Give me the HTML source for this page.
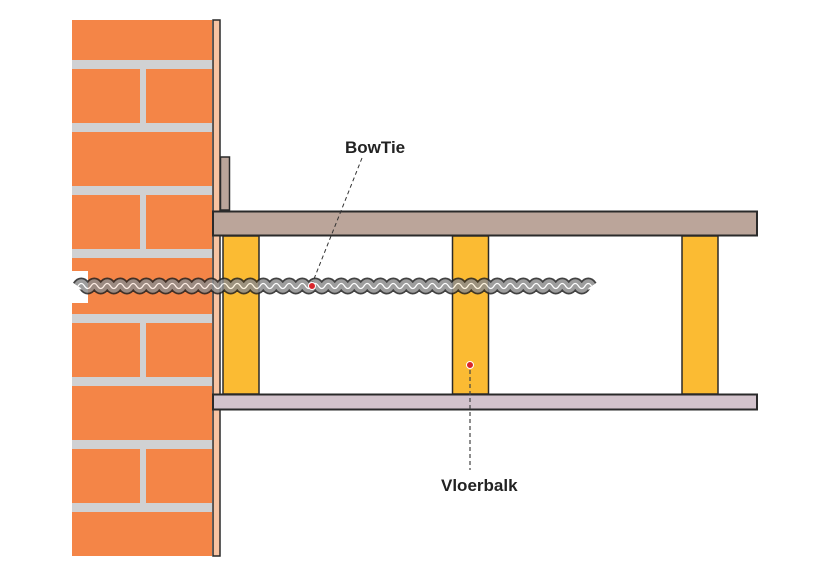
<!DOCTYPE html>
<html><head><style>body{margin:0;background:#fff}svg{display:block}</style></head><body>
<svg width="832" height="576" xmlns="http://www.w3.org/2000/svg">
<rect x="0" y="0" width="832" height="576" fill="#fff"/>
<rect x="72" y="20" width="140" height="536" fill="#f48547"/>
<g fill="#d0d1d3">
<rect x="72" y="60" width="140" height="9"/>
<rect x="72" y="123" width="140" height="9"/>
<rect x="72" y="186" width="140" height="9"/>
<rect x="72" y="249" width="140" height="9"/>
<rect x="72" y="314" width="140" height="9"/>
<rect x="72" y="377" width="140" height="9"/>
<rect x="72" y="440" width="140" height="9"/>
<rect x="72" y="503" width="140" height="9"/>
<rect x="140" y="69" width="6" height="54"/>
<rect x="140" y="195" width="6" height="54"/>
<rect x="140" y="323" width="6" height="54"/>
<rect x="140" y="449" width="6" height="54"/>
</g>
<rect x="72" y="271" width="16" height="32" fill="#fff"/>
<rect x="213" y="20" width="7" height="536" fill="#f7c3a2" stroke="#2a2a2a" stroke-width="1.5"/>
<rect x="220.5" y="157" width="9" height="53" fill="#bba59a" stroke="#2a2a2a" stroke-width="1.5"/>
<rect x="213" y="211.5" width="544" height="24" fill="#bba59a" stroke="#2a2a2a" stroke-width="2"/>
<g fill="#fbbb33" stroke="#2a2a2a" stroke-width="1.5">
<rect x="223" y="236" width="36" height="158"/>
<rect x="452.5" y="236" width="36" height="158"/>
<rect x="682" y="236" width="36" height="158"/>
</g>
<rect x="213" y="394.5" width="544" height="15" fill="#d3c3cc" stroke="#2a2a2a" stroke-width="2"/>
<defs>
<path id="w" d="M78 286 q3.25 -5 6.5 0 t6.5 0 t6.5 0 t6.5 0 t6.5 0 t6.5 0 t6.5 0 t6.5 0 t6.5 0 t6.5 0 t6.5 0 t6.5 0 t6.5 0 t6.5 0 t6.5 0 t6.5 0 t6.5 0 t6.5 0 t6.5 0 t6.5 0 t6.5 0 t6.5 0 t6.5 0 t6.5 0 t6.5 0 t6.5 0 t6.5 0 t6.5 0 t6.5 0 t6.5 0 t6.5 0 t6.5 0 t6.5 0 t6.5 0 t6.5 0 t6.5 0 t6.5 0 t6.5 0 t6.5 0 t6.5 0 t6.5 0 t6.5 0 t6.5 0 t6.5 0 t6.5 0 t6.5 0 t6.5 0 t6.5 0 t6.5 0 t6.5 0 t6.5 0 t6.5 0 t6.5 0 t6.5 0 t6.5 0 t6.5 0 t6.5 0 t6.5 0 t6.5 0 t6.5 0 t6.5 0 t6.5 0 t6.5 0 t6.5 0 t6.5 0 t6.5 0 t6.5 0 t6.5 0 t6.5 0 t6.5 0 t6.5 0 t6.5 0 t6.5 0 t6.5 0 t6.5 0 t6.5 0 t6.5 0 t6.5 0 t6.5 0"/>
</defs>
<g opacity="0.85" fill="none" stroke-linejoin="round">
<use href="#w" stroke="#222" stroke-width="12"/>
<use href="#w" stroke="#8c8c8c" stroke-width="8.5"/>
<use href="#w" stroke="#fff" stroke-width="1.3"/>
</g>
<line x1="362" y1="158" x2="312" y2="284" stroke="#333" stroke-width="1" stroke-dasharray="4,3"/>
<circle cx="312" cy="286" r="3.5" fill="#d9262c" stroke="#fff" stroke-width="1"/>
<line x1="470" y1="370" x2="470" y2="470" stroke="#444" stroke-width="1.2" stroke-dasharray="4,3"/>
<circle cx="470" cy="365" r="3.5" fill="#d9262c" stroke="#fff" stroke-width="1"/>
<text x="345" y="153" font-family="Liberation Sans, sans-serif" font-weight="bold" font-size="17" fill="#222">BowTie</text>
<text x="441" y="491" font-family="Liberation Sans, sans-serif" font-weight="bold" font-size="17" fill="#222">Vloerbalk</text>
</svg>
</body></html>
